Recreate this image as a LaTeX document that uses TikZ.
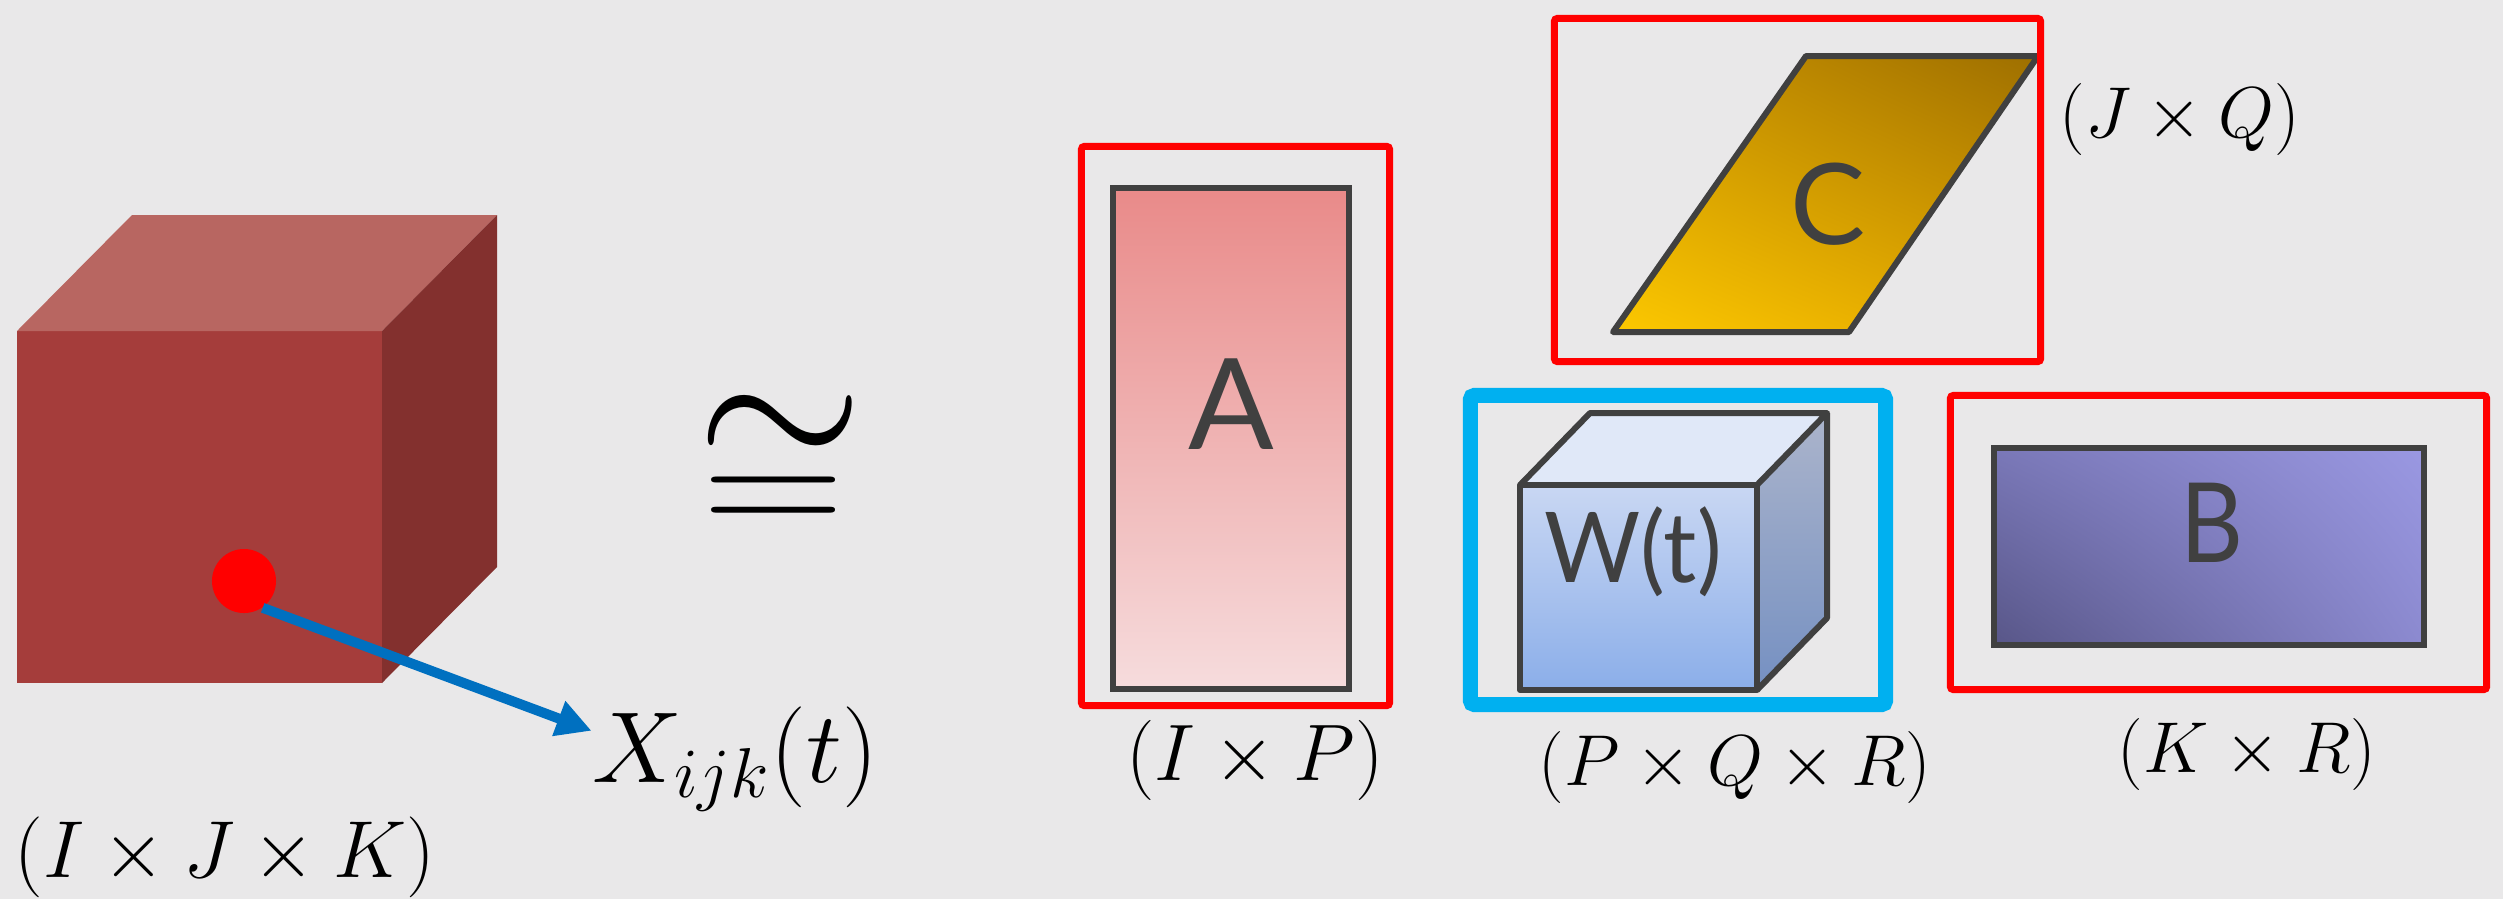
\documentclass[tikz,border=0pt]{standalone}
\usepackage{fix-cm}
\usepackage{amsmath}
\usepackage{graphicx}
\usepackage{fontspec}
\newfontfamily\lettfont{Lato}
\usetikzlibrary{arrows.meta,shadings}
\definecolor{SlideBg}{RGB}{233,232,233}
\definecolor{FrameRed}{RGB}{255,0,0}
\definecolor{FrameBlue}{RGB}{0,176,240}
\definecolor{EdgeGray}{RGB}{64,64,64}
\definecolor{ArrowBlue}{RGB}{0,112,192}
\definecolor{CubeFront}{RGB}{165,61,59}
\definecolor{CubeTop}{RGB}{184,102,97}
\definecolor{CubeSide}{RGB}{131,48,46}
\definecolor{MatATop}{RGB}{233,138,137}
\definecolor{MatABot}{RGB}{246,220,221}
\definecolor{MatCLL}{RGB}{252,200,0}
\definecolor{MatCUL}{RGB}{205,150,0}
\definecolor{MatCLR}{RGB}{225,165,0}
\definecolor{MatCUR}{RGB}{158,111,0}
\definecolor{MatBLL}{RGB}{88,86,136}
\definecolor{MatBUL}{RGB}{122,120,184}
\definecolor{MatBLR}{RGB}{140,138,208}
\definecolor{MatBUR}{RGB}{154,152,226}
\definecolor{CoreFrontTop}{RGB}{201,215,243}
\definecolor{CoreFrontBot}{RGB}{139,174,233}
\definecolor{CoreTop}{RGB}{224,232,248}
\definecolor{CoreSideTop}{RGB}{171,180,203}
\definecolor{CoreSideBot}{RGB}{117,144,194}

\tikzset{
  redframe/.style={draw=FrameRed, line width=0.07cm, rounded corners=0.03cm, inner sep=0pt},
  facet/.style={draw=EdgeGray, line width=0.06cm, line join=round},
  dimlabel/.style={inner sep=0pt, anchor=base, font=\fontsize{20.5}{24}\selectfont},
  letter/.style={text=EdgeGray, inner sep=0pt, anchor=base},
}

\begin{document}
\begin{tikzpicture}[x=0.01cm, y=-0.01cm]
    \fill[SlideBg] (0,0) rectangle (2503,899);
    \useasboundingbox (0,0) rectangle (2503,899);

    % data tensor
    \fill[CubeFront] (17,331) rectangle (382,683);
    \fill[CubeTop] (17,331) -- (132,215) -- (497,215) -- (382,331) -- cycle;
    \fill[CubeSide] (382,331) -- (497,215) -- (497,567) -- (382,683) -- cycle;
    \node[circle, fill=red, minimum size=0.64cm, inner sep=0pt] (dot) at (244,581) {};
    \node[inner sep=0pt, anchor=base, font=\fontsize{28.7}{34}\selectfont] (xlbl) at (735,782) {$X_{ijk}(t)$};
    \draw[-{Triangle[length=0.35cm, width=0.35cm]}, ArrowBlue, line width=0.1cm] (dot.-55) -- (xlbl.169);
    \node[dimlabel, font=\fontsize{23}{27}\selectfont] (dimX) at (225,877) {$(I \times J \times K)$};

    % approx. equal sign, tilde over bars
    \node[inner sep=0pt, anchor=base] (approx) at (774,537) {\rlap{\hspace{-0.06cm}\raisebox{0.62cm}{\fontsize{61.3}{70}\selectfont$\sim$}}\scalebox{1}[0.86]{\fontsize{56.2}{64}\selectfont$=$}};

    % factor A
    \node[draw=EdgeGray, line width=0.055cm, top color=MatATop, bottom color=MatABot, minimum width=2.36cm, minimum height=5.01cm, inner sep=0pt] (matA) at (1231,438.5) {};
    \node[letter, font=\lettfont\fontsize{36}{40}\selectfont] (letA) at (1231,449) {A};
    \node[redframe, minimum width=3.08cm, minimum height=5.59cm] (frA) at (1235.5,426) {};
    \node[dimlabel, font=\fontsize{22.8}{27}\selectfont] (dimA) at (1255,780) {$(I \times P)$};

    % factor C
    \shadedraw[facet, lower left=MatCLL, upper left=MatCUL, lower right=MatCLR, upper right=MatCUR] (1806,56) -- (2038,56) -- (1849,332) -- (1613,332) -- cycle;
    \node[letter, font=\lettfont\fontsize{32}{36}\selectfont] (letC) at (1828,244) {C};
    \node[redframe, minimum width=4.86cm, minimum height=3.43cm] (frC) at (1797.5,190) {};
    \node[dimlabel] (dimC) at (2180,137) {$(J \times Q)$};

    % core tensor
    \shade[top color=CoreFrontTop, bottom color=CoreFrontBot] (1520,485) rectangle (1757,690);
    \fill[CoreTop] (1520,485) -- (1590,413) -- (1827,413) -- (1757,485) -- cycle;
    \shade[top color=CoreSideTop, bottom color=CoreSideBot] (1757,485) -- (1827,413) -- (1827,618) -- (1757,690) -- cycle;
    \draw[facet] (1520,485) rectangle (1757,690);
    \draw[facet] (1520,485) -- (1590,413) -- (1827,413) -- (1757,485);
    \draw[facet] (1827,413) -- (1827,618) -- (1757,690);
    \node[letter, font=\lettfont\fontsize{27.8}{32}\selectfont, xscale=0.95] (letW) at (1633,582) {W(t)};
    \node[draw=FrameBlue, line width=0.15cm, rounded corners=0.04cm, inner sep=0pt, minimum width=4.15cm, minimum height=3.09cm] (frW) at (1678,550) {};
    \node[dimlabel] (dimW) at (1735,785) {$(P \times Q \times R)$};

    % factor B
    \node[draw=EdgeGray, line width=0.055cm, lower left=MatBLL, upper left=MatBUL, lower right=MatBLR, upper right=MatBUR, minimum width=4.30cm, minimum height=1.97cm, inner sep=0pt] (matB) at (2209,546.5) {};
    \node[letter, font=\lettfont\fontsize{31.5}{36}\selectfont, xscale=0.88] (letB) at (2212,562) {B};
    \node[redframe, minimum width=5.36cm, minimum height=2.94cm] (frB) at (2218.5,542.5) {};
    \node[dimlabel] (dimB) at (2247,772) {$(K \times R)$};
\end{tikzpicture}
\end{document}
